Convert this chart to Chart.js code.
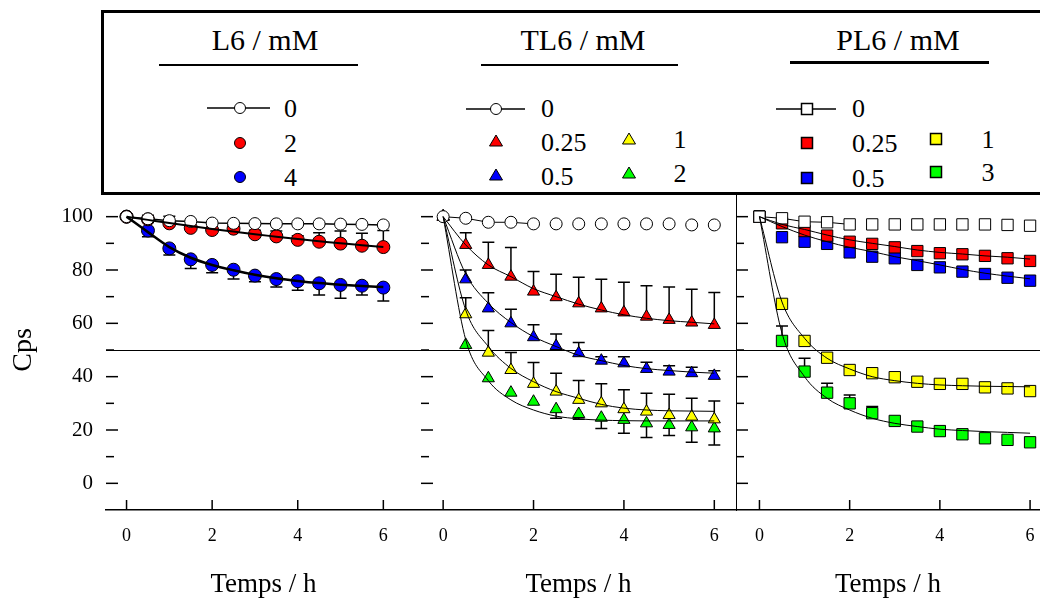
<!DOCTYPE html>
<html>
<head>
<meta charset="utf-8">
<script src="https://cdn.jsdelivr.net/npm/chart.js"></script>
<style>
  body { margin: 0; width: 1040px; height: 603px; overflow: hidden; background: #fff; position: relative; font-family: 'Liberation Serif', serif; }
  canvas { position: absolute; top: 0; }
  #legend { position: absolute; left: 101px; top: 10px; width: 1000px; height: 179px;
            border-top: 3px solid #000; border-left: 3px solid #000; border-bottom: 3px solid #000; background: #fff; }
  .t { position: absolute; line-height: 1; white-space: nowrap; color: #000; }
  .rule { position: absolute; background: #000; }
  svg.m { position: absolute; overflow: visible; }
</style>
</head>
<body>
<canvas id="p1" width="421" height="603" style="left:0px"></canvas>
<canvas id="p2" width="315" height="603" style="left:421px"></canvas>
<canvas id="p3" width="304" height="603" style="left:736px"></canvas>
<div id="legend"></div>
<div id="legendItems"></div>

<script>
// time points (h)
const temps = [0, 0.5, 1, 1.5, 2, 2.5, 3, 3.5, 4, 4.5, 5, 5.5, 6];
const xTicks = [0, 2, 4, 6];
const yTicks = [0, 10, 20, 30, 40, 50, 60, 70, 80, 90, 100];
const yLabels = [0, 20, 40, 60, 80, 100];
const refLine = 50;

// L6 / mM : 0, 2, 4
const l6Levels = ['0', '2', '4'];
const l6_0 = [100, 99.2, 98.5, 98.2, 97.6, 97.5, 97.4, 97.3, 97.3, 97.3, 97.2, 97.1, 96.9];
const l6_2 = [100, 99.0, 97.5, 95.8, 95.0, 95.5, 93.4, 92.6, 91.3, 90.6, 89.9, 89.1, 88.6];
const l6_4 = [100, 94.8, 88.1, 84.0, 81.9, 80.1, 77.9, 76.6, 75.8, 75.0, 74.4, 74.1, 73.4];
const l6_2_err = [0, 1.5, 2.7, 0, 0, 1.5, 1.5, 2.0, 1.5, 3.4, 4.7, 4.7, 6.2];
const l6_4_err = [0, 2.3, 2.5, 3.4, 2.9, 3.5, 2.3, 3.0, 3.4, 4.4, 5.0, 3.5, 5.0];
const l6_2_fit = [100, 98.8, 97.6, 96.5, 95.4, 94.4, 93.4, 92.5, 91.6, 90.8, 90.0, 89.3, 88.6];
const l6_4_fit = [100, 94.2, 88.6, 84.6, 81.9, 79.9, 78.2, 76.9, 75.9, 75.1, 74.5, 74.0, 73.6];

// TL6 / mM : 0, 0.25, 0.5, 1, 2
const tl6Levels = ['0', '0.25', '0.5', '1', '2'];
const tl6_0 = [100, 99.4, 97.9, 97.9, 97.3, 97.3, 97.3, 97.3, 97.3, 97.3, 97.3, 96.9, 96.9];
const tl6_025 = [100, 89.4, 81.9, 77.5, 71.9, 69.8, 67.5, 65.6, 64.1, 62.5, 61.3, 60.3, 59.4];
const tl6_05 = [100, 76.5, 65.6, 60.0, 54.8, 51.5, 48.8, 46.0, 45.0, 42.9, 41.9, 41.3, 40.3];
const tl6_1 = [100, 63.4, 49.0, 42.5, 37.3, 34.4, 31.3, 30.0, 27.8, 26.9, 25.6, 25.0, 24.0];
const tl6_2 = [100, 51.9, 39.4, 34.0, 30.6, 27.8, 26.0, 24.6, 23.8, 22.5, 21.9, 21.0, 20.6];
const tl6_025_err = [0, 4.6, 8.5, 10.9, 7.5, 8.6, 9.8, 10.9, 11.3, 11.6, 12.3, 12.5, 12.2];
const tl6_05_err = [0, 3.5, 5.9, 5.3, 4.7, 4.5, 4.0, 1.5, 2.5, 2.5, 2.2, 2.2, 1.9];
const tl6_1_err = [0, 6.2, 8.3, 6.6, 8.0, 6.9, 7.3, 7.3, 7.3, 6.9, 7.8, 6.9, 6.9];
const tl6_2_err = [0, 0, 0, 0, 0, 3.4, 2.0, 4.0, 5.0, 5.3, 4.0, 5.6, 6.2];
const tl6_025_fit = [100, 89.4, 81.9, 77.5, 73.0, 70.0, 67.2, 65.0, 63.2, 61.9, 61.0, 60.4, 59.8];
const tl6_05_fit = [100, 78.5, 67.5, 60.3, 55.0, 51.3, 48.0, 46.0, 44.2, 43.0, 42.3, 41.7, 41.3];
const tl6_1_fit = [100, 65.0, 51.3, 43.1, 38.1, 34.4, 31.9, 29.6, 28.2, 27.5, 27.2, 27.1, 27.0];
const tl6_2_fit = [100, 53.8, 38.5, 31.3, 27.5, 25.2, 24.2, 23.7, 23.5, 23.4, 23.4, 23.4, 23.4];

// PL6 / mM : 0, 0.25, 0.5, 1, 3
const pl6Levels = ['0', '0.25', '0.5', '1', '3'];
const pl6_0 = [100, 99.4, 98.1, 97.9, 97.1, 97.1, 97.1, 97.1, 97.1, 97.1, 97.1, 96.9, 96.6];
const pl6_025 = [100, 97.5, 94.6, 92.9, 90.6, 89.8, 88.5, 87.1, 86.3, 85.9, 85.3, 84.4, 83.4];
const pl6_05 = [100, 92.3, 90.6, 89.8, 86.6, 85.0, 84.4, 81.9, 81.0, 79.4, 78.5, 77.1, 76.0];
const pl6_1 = [100, 67.3, 53.4, 47.1, 42.5, 41.3, 39.8, 38.1, 37.3, 37.3, 36.0, 35.6, 34.6];
const pl6_3 = [100, 53.4, 41.9, 34.0, 30.0, 26.3, 23.4, 21.3, 19.6, 18.4, 16.9, 16.3, 15.4];
const pl6_3_err = [0, 5.6, 5.0, 3.5, 3.1, 2.5, 0, 0, 0, 0, 0, 0, 0];
const pl6_025_fit = [100, 97.1, 95.2, 93.1, 91.3, 90.0, 88.8, 87.5, 86.6, 86.0, 85.3, 84.8, 84.1];
const pl6_05_fit = [100, 96.3, 93.1, 90.6, 88.5, 86.9, 85.0, 83.5, 81.9, 80.2, 78.8, 77.7, 76.7];
const pl6_1_fit = [100, 68.0, 54.4, 46.9, 42.9, 40.0, 38.5, 37.5, 36.9, 36.6, 36.4, 36.3, 36.2];
const pl6_3_fit = [100, 56.3, 40.0, 31.9, 27.5, 24.4, 22.5, 21.3, 20.3, 19.8, 19.4, 19.1, 18.8];

const RED = '#ff0000', BLUE = '#0000ff', YELLOW = '#ffff00', GREEN = '#00ff00', WHITE = '#ffffff';
const FONT = 'Liberation Serif';
Chart.defaults.font.family = FONT;
Chart.defaults.color = '#000';

const pts = vals => temps.map((t, i) => ({ x: t, y: vals[i] }));

// marker series (optionally joined by a line, up to lineEnd hours)
function markers(label, vals, style, radius, fill, opts = {}) {
    const ds = {
        label,
        data: pts(vals),
        showLine: !!opts.line,
        borderColor: '#000',
        borderWidth: opts.line || 0,
        pointStyle: style,
        pointRadius: radius,
        pointBackgroundColor: fill,
        pointBorderColor: '#000',
        pointBorderWidth: 1,
        errors: opts.errors || null,
        errDir: opts.dir || 1
    };
    if (opts.lineEnd !== undefined) {
        ds.segment = { borderColor: c => c.p0.parsed.x >= opts.lineEnd ? 'transparent' : '#000' };
    }
    return ds;
}

// fitted curve
function fit(vals, width) {
    return {
        data: pts(vals),
        showLine: true,
        pointRadius: 0,
        borderColor: '#000',
        borderWidth: width,
        cubicInterpolationMode: 'monotone',
        fill: false
    };
}

// inward ticks, 50 % line and one-sided error bars
const decor = {
    id: 'decor',
    beforeDatasetsDraw(chart) {
        const { ctx, chartArea: a, scales: { x, y } } = chart;
        ctx.save();
        ctx.strokeStyle = '#000';
        ctx.lineWidth = 1.2;
        const y50 = Math.round(y.getPixelForValue(refLine)) + 0.5;
        ctx.beginPath();
        ctx.moveTo(a.left, y50);
        ctx.lineTo(a.right, y50);
        ctx.stroke();

        ctx.lineWidth = 1.5;
        yTicks.forEach(v => {
            const py = y.getPixelForValue(v);
            const len = yLabels.includes(v) ? 12 : 8;
            ctx.beginPath();
            ctx.moveTo(a.left, py);
            ctx.lineTo(a.left + len, py);
            ctx.stroke();
        });
        xTicks.forEach(v => {
            const px = x.getPixelForValue(v);
            if (px > a.right) return;
            ctx.beginPath();
            ctx.moveTo(px, a.bottom);
            ctx.lineTo(px, a.bottom - 10);
            ctx.stroke();
        });

        chart.data.datasets.forEach((ds, i) => {
            if (!ds.errors) return;
            const meta = chart.getDatasetMeta(i);
            meta.data.forEach((pt, j) => {
                const e = ds.errors[j];
                if (!e) return;
                const yEnd = y.getPixelForValue(ds.data[j].y + ds.errDir * e);
                ctx.beginPath();
                ctx.moveTo(pt.x, pt.y);
                ctx.lineTo(pt.x, yEnd);
                ctx.moveTo(pt.x - 6, yEnd);
                ctx.lineTo(pt.x + 6, yEnd);
                ctx.stroke();
            });
        });
        ctx.restore();
    }
};

function makePanel(id, xMin, xMax, datasets, first, last) {
    const ctx = document.getElementById(id).getContext('2d');
    return new Chart(ctx, {
        type: 'scatter',
        data: { datasets },
        options: {
            responsive: false,
            animation: false,
            events: [],
            layout: { padding: { top: 190, left: 0, right: 0, bottom: 0 }, autoPadding: false },
            plugins: { legend: { display: false }, tooltip: { enabled: false } },
            scales: {
                x: {
                    type: 'linear',
                    position: 'bottom',
                    min: xMin,
                    max: xMax,
                    afterBuildTicks: s => { s.ticks = xTicks.map(v => ({ value: v })); },
                    afterFit: s => { s.height = 93; },
                    grid: { display: false, drawTicks: true, tickLength: 15 },
                    border: { display: true, color: '#000', width: 1.5 },
                    ticks: { padding: 0, font: { size: 18 }, color: '#000', maxRotation: 0, autoSkip: false },
                    title: { display: true, text: 'Temps / h', font: { size: 27 }, color: '#000', padding: { top: 0, bottom: 2 } }
                },
                y: {
                    type: 'linear',
                    min: -10,
                    max: 110,
                    afterBuildTicks: s => { s.ticks = yTicks.map(v => ({ value: v })); },
                    afterFit: s => { s.width = first ? 106 : 0; },
                    grid: { display: false, drawTicks: true, tickLength: 13 },
                    border: { display: last, color: '#000', width: 2 },
                    ticks: {
                        display: first,
                        padding: 0,
                        font: { size: 21 },
                        color: '#000',
                        autoSkip: false,
                        callback: v => yLabels.includes(v) ? String(v) : ''
                    },
                    title: { display: first, text: 'Cps', font: { size: 28 }, color: '#000', padding: { top: 7, bottom: 0 } }
                }
            }
        },
        plugins: [decor]
    });
}

// L6 panel
makePanel('p1', -0.48, 6.88, [
    fit(l6_4_fit, 2.5),
    fit(l6_2_fit, 2),
    markers(l6Levels[0], l6_0, 'circle', 6, WHITE, { line: 1.5 }),
    markers(l6Levels[1], l6_2, 'circle', 6.5, RED, { errors: l6_2_err, dir: 1 }),
    markers(l6Levels[2], l6_4, 'circle', 6.5, BLUE, { errors: l6_4_err, dir: -1 })
], true, false);

// TL6 panel
makePanel('p2', -0.49, 6.48, [
    fit(tl6_025_fit, 1),
    fit(tl6_05_fit, 1),
    fit(tl6_1_fit, 1),
    fit(tl6_2_fit, 1),
    markers(tl6Levels[0], tl6_0, 'circle', 6, WHITE, { line: 1, lineEnd: 2 }),
    markers(tl6Levels[1], tl6_025, 'triangle', 7, RED, { errors: tl6_025_err, dir: 1 }),
    markers(tl6Levels[2], tl6_05, 'triangle', 7, BLUE, { errors: tl6_05_err, dir: 1 }),
    markers(tl6Levels[3], tl6_1, 'triangle', 7, YELLOW, { errors: tl6_1_err, dir: 1 }),
    markers(tl6Levels[4], tl6_2, 'triangle', 7, GREEN, { errors: tl6_2_err, dir: -1 })
], false, false);

// PL6 panel
makePanel('p3', -0.52, 6.22, [
    fit(pl6_025_fit, 1),
    fit(pl6_05_fit, 1),
    fit(pl6_1_fit, 1),
    fit(pl6_3_fit, 1),
    markers(pl6Levels[0], pl6_0, 'rect', 8, WHITE, { line: 1, lineEnd: 2 }),
    markers(pl6Levels[1], pl6_025, 'rect', 8, RED),
    markers(pl6Levels[2], pl6_05, 'rect', 8, BLUE),
    markers(pl6Levels[3], pl6_1, 'rect', 8, YELLOW),
    markers(pl6Levels[4], pl6_3, 'rect', 8, GREEN, { errors: pl6_3_err, dir: 1 })
], false, true);

// ---- legend box (HTML) ----
const box = document.getElementById('legendItems');
const SVGNS = 'http://www.w3.org/2000/svg';

function text(str, x, y, size, center) {
    const d = document.createElement('div');
    d.className = 't';
    d.textContent = str;
    d.style.fontSize = size + 'px';
    d.style.left = x + 'px';
    d.style.top = y + 'px';
    d.style.transform = center ? 'translate(-50%, -50%)' : 'translateY(-50%)';
    box.appendChild(d);
}

function rule(x1, x2, y, h) {
    const d = document.createElement('div');
    d.className = 'rule';
    Object.assign(d.style, { left: x1 + 'px', width: (x2 - x1) + 'px', top: y + 'px', height: h + 'px' });
    box.appendChild(d);
}

function symbol(shape, fill, cx, cy, lineFrom, lineTo) {
    const s = document.createElementNS(SVGNS, 'svg');
    s.setAttribute('class', 'm');
    s.setAttribute('width', 1);
    s.setAttribute('height', 1);
    s.style.left = '0px';
    s.style.top = '0px';
    let html = '';
    if (lineFrom !== undefined) {
        html += `<line x1="${lineFrom}" y1="${cy}" x2="${lineTo}" y2="${cy}" stroke="#000" stroke-width="1.5"/>`;
    }
    if (shape === 'circle') {
        html += `<circle cx="${cx}" cy="${cy}" r="5.5" fill="${fill}" stroke="#000" stroke-width="1"/>`;
    } else if (shape === 'triangle') {
        html += `<polygon points="${cx - 6.5},${cy + 5} ${cx + 6.5},${cy + 5} ${cx},${cy - 6}" fill="${fill}" stroke="#000" stroke-width="1"/>`;
    } else {
        html += `<rect x="${cx - 5.5}" y="${cy - 5.5}" width="11" height="11" fill="${fill}" stroke="#000" stroke-width="1.5"/>`;
    }
    s.innerHTML = html;
    box.appendChild(s);
}

text('L6 / mM', 265, 40, 30, true);
text('TL6 / mM', 583, 40, 30, true);
text('PL6 / mM', 898, 40, 30, true);
rule(159, 358, 64, 2);
rule(481, 678, 64, 2);
rule(790, 989, 61, 3);

// L6 entries
symbol('circle', WHITE, 240, 108, 207, 270);
text(l6Levels[0], 284, 109, 26);
symbol('circle', RED, 240, 143);
text(l6Levels[1], 284, 144, 26);
symbol('circle', BLUE, 240, 177);
text(l6Levels[2], 284, 178, 26);

// TL6 entries
symbol('circle', WHITE, 496, 109, 466, 525);
text(tl6Levels[0], 541, 109, 26);
symbol('triangle', RED, 496, 141);
text(tl6Levels[1], 541, 143, 26);
symbol('triangle', BLUE, 496, 175);
text(tl6Levels[2], 541, 177, 26);
symbol('triangle', YELLOW, 629, 139);
text(tl6Levels[3], 680, 140, 26, true);
symbol('triangle', GREEN, 629, 173);
text(tl6Levels[4], 680, 174, 26, true);

// PL6 entries
symbol('rect', WHITE, 807, 109, 776, 836);
text(pl6Levels[0], 852, 109, 26);
symbol('rect', RED, 807, 143);
text(pl6Levels[1], 852, 144, 26);
symbol('rect', BLUE, 807, 178);
text(pl6Levels[2], 852, 179, 26);
symbol('rect', YELLOW, 936, 139);
text(pl6Levels[3], 988, 140, 26, true);
symbol('rect', GREEN, 936, 172);
text(pl6Levels[4], 988, 173, 26, true);
</script>
</body>
</html>
